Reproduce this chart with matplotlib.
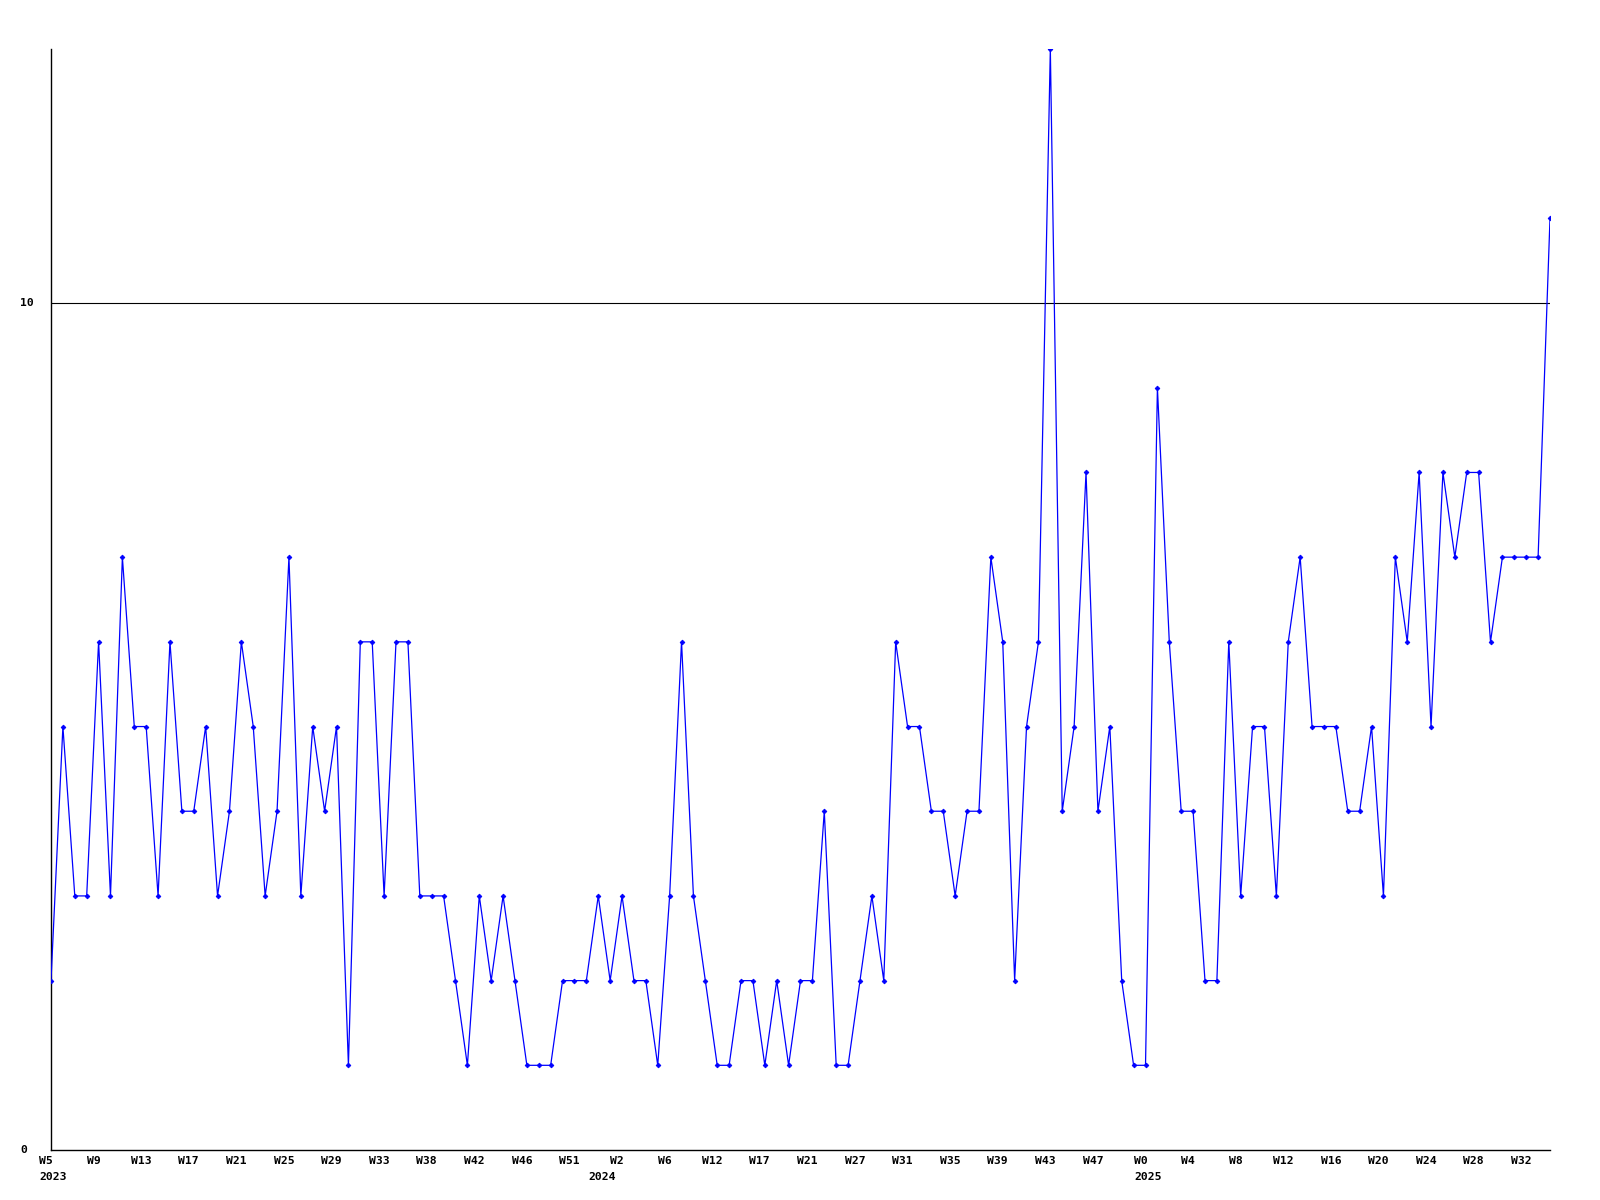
import matplotlib
matplotlib.use("Agg")
import matplotlib.pyplot as plt
import matplotlib.transforms as mtransforms

# Weekly counts (W5 2023 .. W33 2025)
values = [2, 5, 3, 3, 6, 3, 7, 5, 5, 3,
          6, 4, 4, 5, 3, 4, 6, 5, 3, 4,
          7, 3, 5, 4, 5, 1, 6, 6, 3, 6,
          6, 3, 3, 3, 2, 1, 3, 2, 3, 2,
          1, 1, 1, 2, 2, 2, 3, 2, 3, 2,
          2, 1, 3, 6, 3, 2, 1, 1, 2, 2,
          1, 2, 1, 2, 2, 4, 1, 1, 2, 3,
          2, 6, 5, 5, 4, 4, 3, 4, 4, 7,
          6, 2, 5, 6, 13, 4, 5, 8, 4, 5,
          2, 1, 1, 9, 6, 4, 4, 2, 2, 6,
          3, 5, 5, 3, 6, 7, 5, 5, 5, 4,
          4, 5, 3, 7, 6, 8, 5, 8, 7, 8,
          8, 6, 7, 7, 7, 7, 11]

week_labels = ["W5", "W9", "W13", "W17", "W21", "W25", "W29", "W33", "W38",
               "W42", "W46", "W51", "W2", "W6", "W12", "W17", "W21", "W27",
               "W31", "W35", "W39", "W43", "W47", "W0", "W4", "W8", "W12",
               "W16", "W20", "W24", "W28", "W32"]
label_step = 4

year_labels = ["2023", "2024", "2025"]
year_positions = [0.15, 46.3, 92.2]

y_ticks = [0, 10]

x = list(range(len(values)))

fig = plt.figure(figsize=(16, 12), dpi=100)
ax = fig.add_axes([51 / 1600, 1 - 1150 / 1200, (1550 - 51) / 1600, (1150 - 49) / 1200])

ax.plot(x, values, color=(0, 0, 1), linewidth=0.9, marker='D', markersize=2.4,
        markeredgewidth=0.6, zorder=3)

ax.set_xlim(0, len(values) - 1)
ax.set_ylim(0, 13)

for s in ["top", "right"]:
    ax.spines[s].set_visible(False)
for s in ["left", "bottom"]:
    ax.spines[s].set_color("black")
    ax.spines[s].set_linewidth(1.0)

# horizontal grid line at 10
for yt in y_ticks[1:]:
    ax.axhline(yt, color="black", linewidth=0.8, zorder=1)

font = dict(family="DejaVu Sans Mono", fontweight="bold", fontsize=8.2)

ax.set_yticks([])
ax.set_xticks([])

# y labels, left aligned near figure edge
for yt in y_ticks:
    ax.text(-31 / 1499, yt, str(yt), transform=mtransforms.blended_transform_factory(ax.transAxes, ax.transData),
            ha="left", va="center", **font)

# x week labels
off = mtransforms.offset_copy(ax.get_xaxis_transform(), fig=fig, x=-5, y=-11, units="dots")
for i, lab in enumerate(week_labels):
    ax.text(i * label_step, 0, lab, transform=off, ha="center", va="center", **font)

off2 = mtransforms.offset_copy(ax.get_xaxis_transform(), fig=fig, x=0, y=-27, units="dots")
for pos, lab in zip(year_positions, year_labels):
    ax.text(pos, 0, lab, transform=off2, ha="center", va="center", **font)

fig.savefig("out.png", dpi=100, facecolor="white")
